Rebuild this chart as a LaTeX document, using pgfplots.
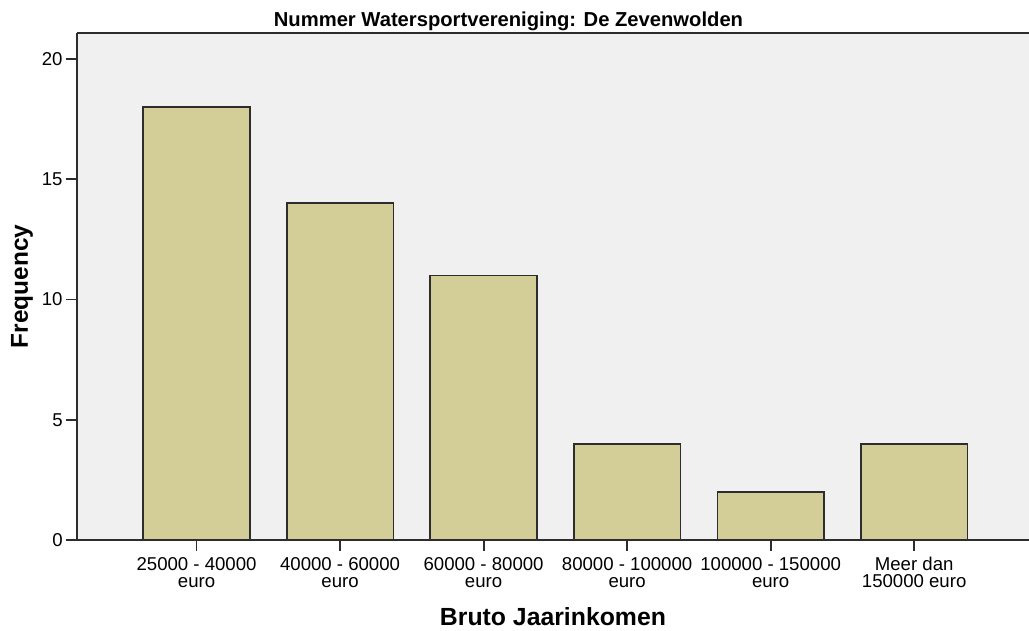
\documentclass[border=0pt]{standalone}
\usepackage{pgfplots}
\pgfplotsset{compat=1.18}
\usepackage{fontspec}
\setmainfont{Liberation Sans}
\definecolor{barfill}{RGB}{211,206,151}
\definecolor{plotbg}{RGB}{240,240,240}
\definecolor{edge}{RGB}{45,45,45}
\begin{document}
\begin{tikzpicture}
\begin{axis}[
  name=ax,
  scale only axis,
  width=476pt, height=253.5pt,
  xmin=-0.833, xmax=5.80,
  ymin=0, ymax=21.08,
  axis background/.style={fill=plotbg},
  axis lines*=left,
  axis line style={edge, line width=1pt},
  tick align=outside,
  major tick length=5.5pt,
  tick style={edge, line width=0.9pt},
  xtick={0,1,2,3,4,5},
  xticklabels={{25000 - 40000\\euro},{40000 - 60000\\euro},{60000 - 80000\\euro},{80000 - 100000\\euro},{100000 - 150000\\euro},{Meer dan\\150000 euro}},
  xticklabel style={align=center, font=\fontsize{9.3}{8.5}\selectfont, inner sep=1pt, yshift=-2pt},
  ytick={0,5,10,15,20},
  yticklabel style={font=\fontsize{9.3}{9.3}\selectfont, inner sep=1.5pt},
  /pgf/number format/assume math mode=true,
  clip=false,
]
\addplot[ybar, bar width=0.743, fill=barfill, draw=edge, line width=0.8pt]
  coordinates {(0,18) (1,14) (2,11) (3,4) (4,2) (5,4)};
\draw[edge, line width=0.6pt] (rel axis cs:0,1) -- (rel axis cs:1,1);
\end{axis}
\node[font=\fontsize{10.1}{10.1}\selectfont\bfseries, anchor=center] at ([xshift=215.75pt, yshift=6pt]ax.north west) {Nummer Watersportvereniging: De Zevenwolden};
\node[font=\fontsize{12.2}{12.2}\selectfont\bfseries, anchor=center, rotate=90] at ([xshift=-27.5pt]ax.west) {Frequency};
\node[font=\fontsize{12.4}{12.4}\selectfont\bfseries, anchor=center] at ([yshift=-38.25pt]ax.south) {Bruto Jaarinkomen};
\pgfresetboundingbox
\path ([xshift=-38.5pt, yshift=-45.5pt]ax.south west) rectangle ([yshift=16.5pt]ax.north east);
\end{tikzpicture}
\end{document}
